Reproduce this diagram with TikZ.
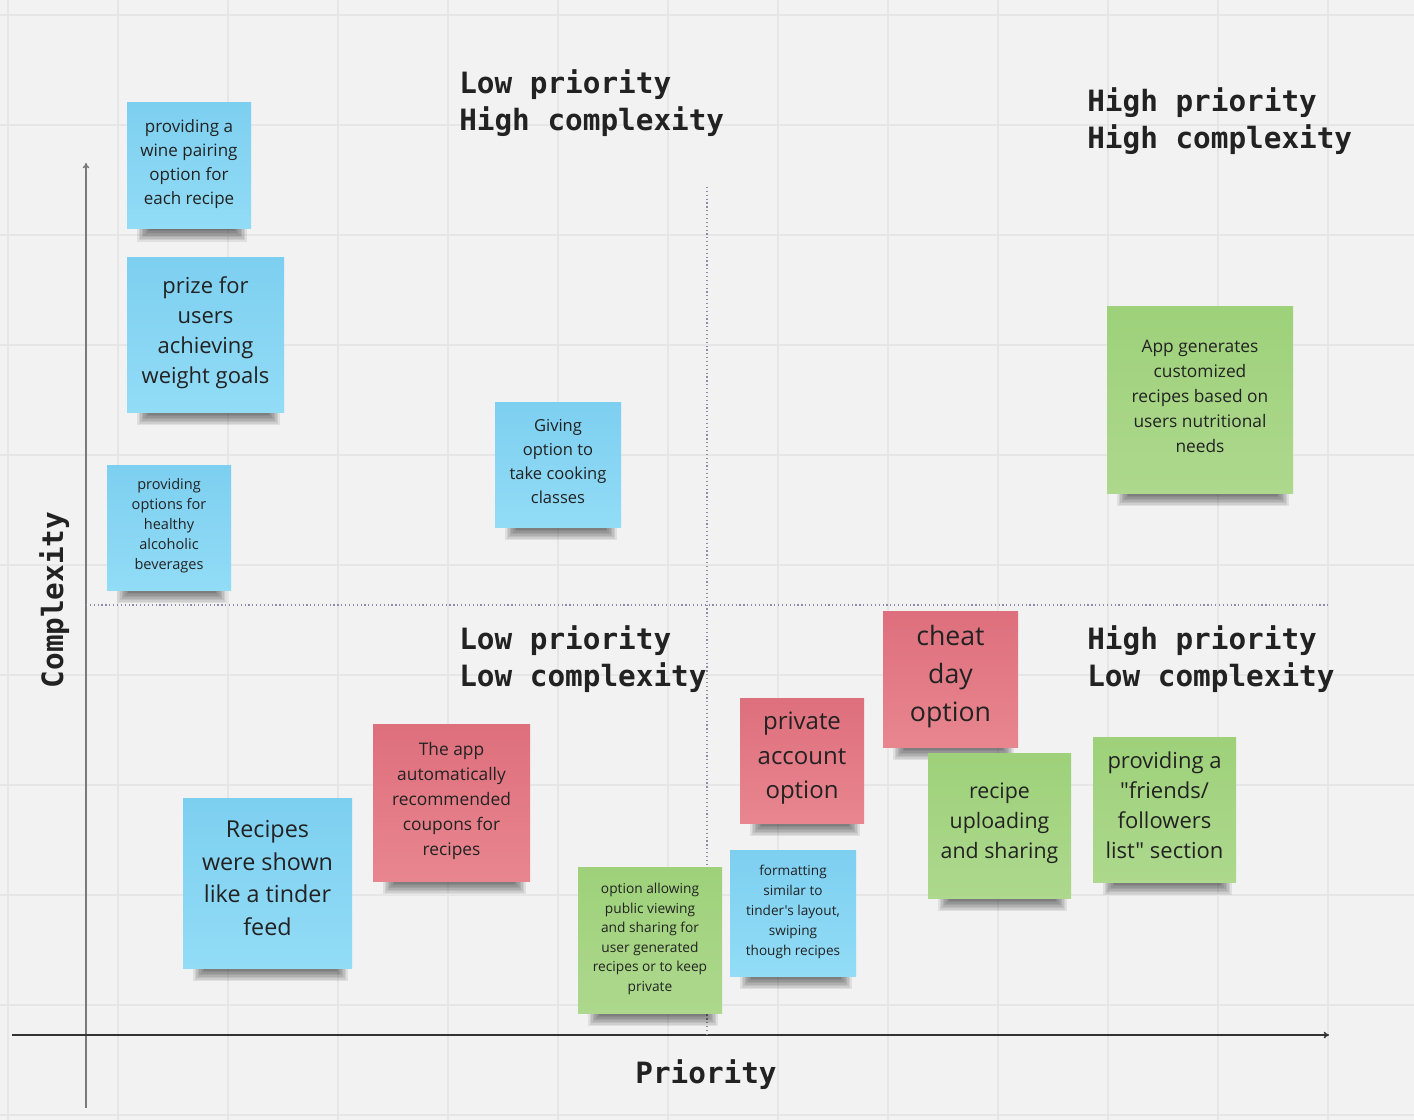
\documentclass[tikz,border=0pt]{standalone}
\usepackage{fontspec}
\usetikzlibrary{arrows.meta}
\newfontfamily\notefont{Open Sans}
\newfontfamily\hdrfont{DejaVu Sans Mono}
\definecolor{bgc}{HTML}{F2F2F2}
\definecolor{gridc}{HTML}{E6E6E6}
\definecolor{bluetop}{HTML}{7DCFF0}
\definecolor{bluebot}{HTML}{92DCF6}
\definecolor{redtop}{HTML}{DE6F7D}
\definecolor{redbot}{HTML}{E8868F}
\definecolor{greentop}{HTML}{9ED17A}
\definecolor{greenbot}{HTML}{ADD88D}
\definecolor{txt}{HTML}{222222}
\definecolor{dotc}{HTML}{8C8CA6}
\definecolor{axv}{HTML}{7A7A7A}
\definecolor{axh}{HTML}{333333}
\tikzset{
  note/.style={rectangle, inner sep=0pt, align=center, text=txt},
  hdr/.style={font=\hdrfont\bfseries\fontsize{22}{27.75}\selectfont, align=left, inner sep=0pt, text=txt},
  gridline/.style={draw=gridc, line width=1.5pt},
  divider/.style={draw=dotc, dotted, line width=0.9pt},
  shadowlayer/.style={fill=black, fill opacity=0.075},
}
\newcommand\sticky[9]{%
  \foreach \s in {0,...,8} {\fill[shadowlayer] ({#2+10+\s*1.6},{#5-2}) rectangle ({#4-4-\s*1.6},{#5+13-\s*1.5});}
  \node[note, top color=#6top, bottom color=#6bot, minimum width={(#4-#2)*0.75pt}, minimum height={(#5-#3)*0.75pt}, text depth={0.42*#7}, font=\notefont\fontsize{#7}{#8}\selectfont] (#1) at ({(#2+#4)/2},{(#3+#5)/2}) {#9};
}
\begin{document}
\begin{tikzpicture}[x=0.75pt,y=-0.75pt]
\useasboundingbox (0,0) rectangle (1414,1120);
\fill[bgc] (0,0) rectangle (1414,1120);
\foreach \gx in {8,118,...,1408} \draw[gridline] (\gx,0) -- (\gx,1120);
\foreach \gy in {15,125,...,1120} \draw[gridline] (0,\gy) -- (1414,\gy);
% axes
\coordinate (vbot) at (86,1108);
\coordinate (vtop) at (86,163);
\coordinate (hleft) at (12,1035);
\coordinate (hright) at (1329,1035);
\draw[axv, line width=1.1pt, -{To[length=4pt,width=5pt]}] (vbot) -- (vtop);
\draw[axh, line width=1.1pt, -{To[length=4pt,width=5pt]}] (hleft) -- (hright);
% dividers
\coordinate (dvt) at (707,187);
\coordinate (dvb) at (707,1035);
\coordinate (dhl) at (86,605);
\coordinate (dhr) at (1330,605);
\draw[divider] (dvt) -- (dvb);
\draw[divider] (dhl) -- (dhr);
% headers (base = baseline of last line)
\node[hdr, anchor=base west] (lphc) at (459,131) {Low priority\\High complexity};
\node[hdr, anchor=base west] (hphc) at (1087,149) {High priority\\High complexity};
\node[hdr, anchor=base west] (lplc) at (459,686) {Low priority\\Low complexity};
\node[hdr, anchor=base west] (hplc) at (1087,686) {High priority\\Low complexity};
\node[hdr, anchor=base] (prio) at (706,1083) {Priority};
\node[hdr, anchor=base, rotate=90] (cplx) at (63,600) {Complexity};
% sticky notes
\sticky{wine}{127}{103}{251}{229}{blue}{12.75pt}{18pt}{providing a\\wine pairing\\option for\\each recipe}
\sticky{prize}{127}{257}{284}{412}{blue}{16.5pt}{22.5pt}{prize for\\users\\achieving\\weight goals}
\sticky{alco}{107}{465}{231}{590}{blue}{10.9pt}{15pt}{providing\\options for\\healthy\\alcoholic\\beverages}
\sticky{cook}{495}{402}{621}{527}{blue}{12.4pt}{18pt}{Giving\\option to\\take cooking\\classes}
\sticky{appgen}{1107}{306}{1293}{493}{green}{13pt}{18.75pt}{App generates\\customized\\recipes based on\\users nutritional\\needs}
\sticky{cheat}{883}{611}{1018}{747}{red}{20pt}{28.5pt}{cheat\\day\\option}
\sticky{private}{740}{698}{864}{823}{red}{18pt}{26pt}{private\\account\\option}
\sticky{upload}{928}{753}{1071}{898}{green}{16pt}{22.5pt}{recipe\\uploading\\and sharing}
\sticky{friends}{1093}{737}{1236}{882}{green}{16.5pt}{22.5pt}{providing a\\"friends/\\followers\\list" section}
\sticky{coupons}{373}{724}{530}{881}{red}{13pt}{18.75pt}{The app\\automatically\\recommended\\coupons for\\recipes}
\sticky{tinder}{183}{798}{352}{968}{blue}{17.5pt}{24.4pt}{Recipes\\were shown\\like a tinder\\feed}
\sticky{formatting}{730}{850}{856}{976}{blue}{10.2pt}{15pt}{formatting\\similar to\\tinder's layout,\\swiping\\though recipes}
\sticky{public}{578}{867}{722}{1013}{green}{10.3pt}{14.6pt}{option allowing\\public viewing\\and sharing for\\user generated\\recipes or to keep\\private}
\end{tikzpicture}
\end{document}
